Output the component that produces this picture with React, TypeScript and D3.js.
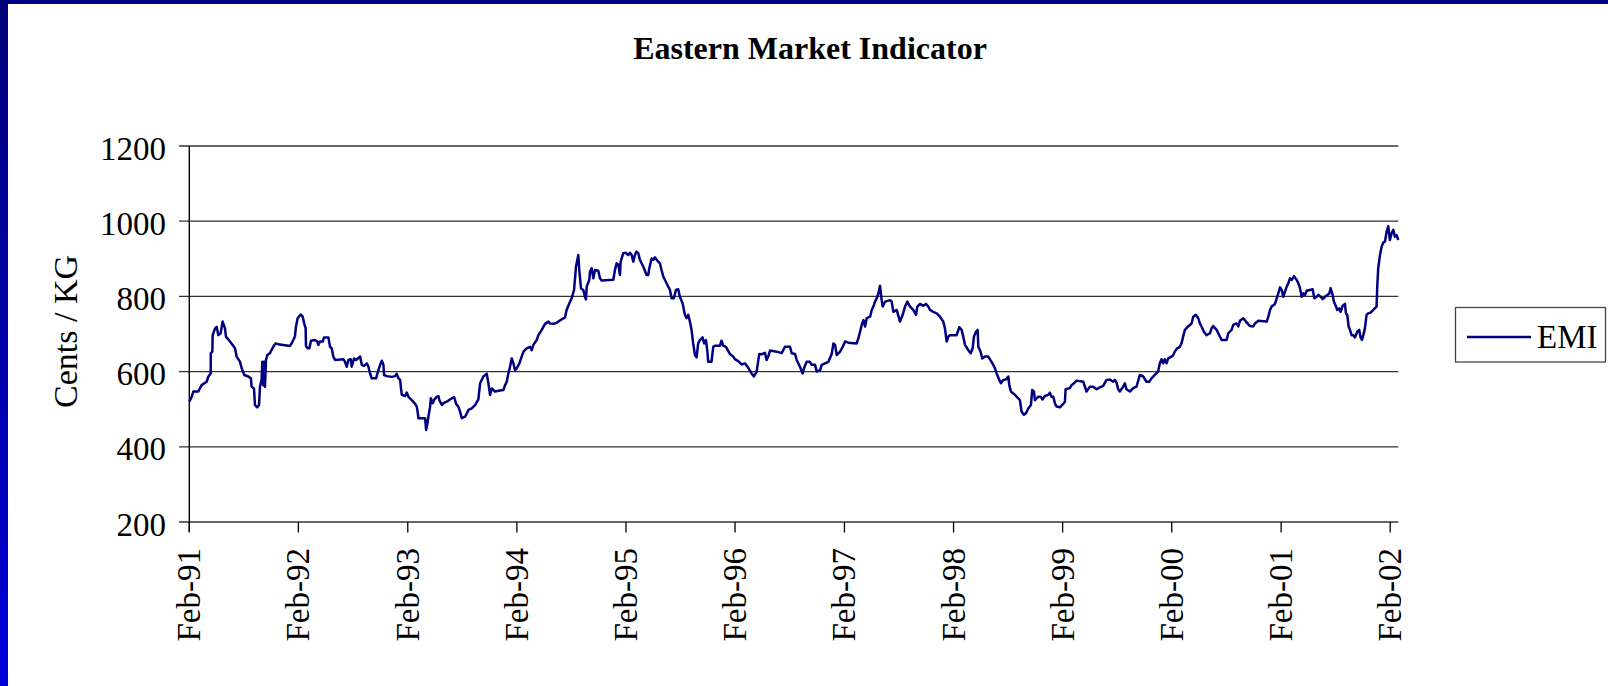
import React from "react";
import * as d3 from "d3";

// Eastern Market Indicator (cents / kg), time given as decimal year
const emi1991: [number, number][] = [
  [1991.085, 520], [1991.107, 533], [1991.122, 547], [1991.168, 547], [1991.198, 564], [1991.244, 573],
  [1991.26, 587], [1991.281, 595], [1991.282, 649], [1991.296, 653], [1991.299, 697], [1991.321, 715],
  [1991.336, 719], [1991.351, 697], [1991.372, 702], [1991.391, 733], [1991.412, 715], [1991.421, 693],
  [1991.458, 680], [1991.504, 662], [1991.519, 640], [1991.55, 626], [1991.565, 609], [1991.589, 591],
  [1991.626, 587], [1991.65, 582], [1991.656, 560], [1991.678, 555], [1991.687, 511], [1991.708, 505],
  [1991.724, 511], [1991.733, 560], [1991.748, 578], [1991.754, 626], [1991.763, 564], [1991.772, 626],
  [1991.779, 560], [1991.788, 631], [1991.8, 644], [1991.824, 649], [1991.855, 666], [1991.876, 675],
  [1991.901, 673],
];
const emi1992: [number, number][] = [
  [1992.007, 668], [1992.023, 675], [1992.038, 684], [1992.053, 693], [1992.062, 719], [1992.078, 742],
  [1992.105, 752], [1992.124, 746], [1992.139, 727], [1992.151, 715], [1992.154, 668], [1992.169, 662],
  [1992.185, 662], [1992.2, 682], [1992.236, 684], [1992.258, 680], [1992.267, 671], [1992.282, 680],
  [1992.307, 680], [1992.319, 691], [1992.359, 691], [1992.374, 666], [1992.389, 662], [1992.404, 640],
  [1992.42, 631], [1992.496, 633], [1992.511, 626], [1992.527, 613], [1992.542, 631], [1992.563, 633],
  [1992.572, 613], [1992.594, 635], [1992.612, 631], [1992.649, 640], [1992.664, 618], [1992.685, 615],
  [1992.71, 622], [1992.725, 613], [1992.74, 595], [1992.755, 582], [1992.795, 582], [1992.807, 595],
  [1992.832, 618], [1992.847, 629], [1992.862, 618], [1992.868, 591], [1992.893, 588], [1992.939, 586],
  [1992.969, 588], [1992.984, 594],
];
const emi1993: [number, number][] = [
  [1993.0, 582], [1993.015, 578], [1993.021, 560], [1993.03, 538], [1993.061, 535], [1993.076, 544],
  [1993.091, 533], [1993.122, 524], [1993.152, 514], [1993.168, 507], [1993.177, 489], [1993.183, 476],
  [1993.244, 476], [1993.253, 445], [1993.265, 462], [1993.274, 480], [1993.29, 507], [1993.296, 529],
  [1993.314, 516], [1993.329, 526], [1993.351, 533], [1993.366, 535], [1993.375, 524], [1993.397, 511],
  [1993.412, 516], [1993.442, 520], [1993.488, 529], [1993.51, 532], [1993.528, 514], [1993.549, 507],
  [1993.565, 493], [1993.58, 476], [1993.61, 480], [1993.626, 489], [1993.641, 498], [1993.671, 502],
  [1993.702, 511], [1993.732, 526], [1993.748, 569], [1993.778, 587], [1993.809, 594], [1993.824, 569],
  [1993.839, 538], [1993.855, 555], [1993.885, 547], [1993.916, 549], [1993.961, 551], [1993.977, 564],
  [1993.992, 573],
];
const emi1994: [number, number][] = [
  [1994.007, 595], [1994.022, 613], [1994.038, 635], [1994.053, 622], [1994.068, 604], [1994.084, 609],
  [1994.108, 622], [1994.129, 640], [1994.145, 653], [1994.175, 662], [1994.206, 666], [1994.221, 657],
  [1994.236, 671], [1994.267, 684], [1994.282, 697], [1994.313, 711], [1994.343, 727], [1994.374, 733],
  [1994.389, 728], [1994.419, 727], [1994.45, 730], [1994.496, 739], [1994.526, 744], [1994.541, 764],
  [1994.566, 782], [1994.587, 795], [1994.609, 817], [1994.627, 879], [1994.648, 910], [1994.657, 870],
  [1994.673, 821], [1994.694, 817], [1994.709, 799], [1994.718, 792], [1994.725, 826], [1994.749, 844],
  [1994.755, 866], [1994.77, 875], [1994.786, 848], [1994.801, 870], [1994.831, 868], [1994.847, 848],
  [1994.862, 842], [1994.969, 844], [1994.984, 870], [1994.999, 888],
];
const emi1995: [number, number][] = [
  [1995.015, 884], [1995.03, 857], [1995.036, 892], [1995.06, 915], [1995.085, 916], [1995.106, 910],
  [1995.121, 916], [1995.137, 910], [1995.152, 892], [1995.167, 910], [1995.182, 919], [1995.198, 915],
  [1995.213, 897], [1995.244, 879], [1995.274, 857], [1995.289, 857], [1995.299, 875], [1995.32, 901],
  [1995.335, 897], [1995.35, 904], [1995.366, 897], [1995.396, 888], [1995.411, 870], [1995.427, 853],
  [1995.457, 835], [1995.488, 817], [1995.503, 795], [1995.524, 795], [1995.543, 817], [1995.564, 819],
  [1995.579, 799], [1995.604, 782], [1995.625, 751], [1995.64, 742], [1995.656, 751], [1995.671, 733],
  [1995.686, 711], [1995.701, 675], [1995.717, 644], [1995.732, 638], [1995.747, 675], [1995.763, 684],
  [1995.787, 691], [1995.802, 675], [1995.818, 684], [1995.83, 657], [1995.839, 626], [1995.869, 626],
  [1995.885, 666], [1995.9, 669], [1995.946, 669], [1995.961, 682], [1995.976, 669],
];
const emi1996: [number, number][] = [
  [1996.001, 666], [1996.037, 647], [1996.068, 640], [1996.083, 633], [1996.114, 628], [1996.144, 619],
  [1996.175, 622], [1996.205, 610], [1996.236, 595], [1996.257, 587], [1996.282, 600], [1996.306, 647],
  [1996.327, 646], [1996.358, 650], [1996.373, 631], [1996.388, 640], [1996.404, 656], [1996.465, 653],
  [1996.511, 649], [1996.541, 666], [1996.587, 666], [1996.602, 649], [1996.633, 647], [1996.648, 631],
  [1996.678, 613], [1996.703, 595], [1996.715, 609], [1996.739, 626], [1996.77, 626], [1996.785, 618],
  [1996.816, 618], [1996.831, 600], [1996.862, 604], [1996.877, 618], [1996.938, 626], [1996.968, 647],
  [1996.984, 675], [1996.999, 671],
];
const emi1997: [number, number][] = [
  [1997.014, 644], [1997.045, 653], [1997.069, 666], [1997.091, 680], [1997.121, 677], [1997.197, 675],
  [1997.213, 689], [1997.228, 706], [1997.243, 724], [1997.259, 737], [1997.274, 720], [1997.289, 742],
  [1997.32, 746], [1997.335, 764], [1997.35, 773], [1997.365, 786], [1997.381, 795], [1997.396, 808],
  [1997.411, 828], [1997.426, 790], [1997.436, 773], [1997.457, 786], [1997.503, 790], [1997.518, 786],
  [1997.533, 759], [1997.564, 764], [1997.594, 733], [1997.619, 751], [1997.64, 773], [1997.661, 786],
  [1997.686, 773], [1997.716, 764], [1997.741, 751], [1997.753, 773], [1997.778, 780], [1997.808, 775],
  [1997.832, 780], [1997.854, 773], [1997.869, 764], [1997.9, 759], [1997.93, 755], [1997.961, 746],
  [1997.991, 733],
];
const emi1998: [number, number][] = [
  [1998.006, 715], [1998.022, 680], [1998.037, 693], [1998.052, 697], [1998.113, 697], [1998.138, 718],
  [1998.159, 711], [1998.174, 693], [1998.19, 671], [1998.22, 657], [1998.242, 649], [1998.26, 662],
  [1998.272, 693], [1998.29, 706], [1998.306, 711], [1998.312, 666], [1998.333, 653], [1998.348, 635],
  [1998.373, 640], [1998.403, 640], [1998.434, 626], [1998.449, 618], [1998.464, 609], [1998.48, 595],
  [1998.504, 578], [1998.519, 569], [1998.541, 578], [1998.565, 579], [1998.587, 587], [1998.596, 564],
  [1998.611, 547], [1998.648, 538], [1998.678, 529], [1998.693, 524], [1998.709, 493], [1998.73, 485],
  [1998.748, 489], [1998.77, 502], [1998.794, 511], [1998.806, 551], [1998.822, 547], [1998.831, 524],
  [1998.846, 529], [1998.861, 533], [1998.883, 533], [1998.901, 526], [1998.922, 535], [1998.953, 538],
  [1998.968, 544], [1998.983, 533], [1998.999, 533],
];
const emi1999: [number, number][] = [
  [1999.014, 516], [1999.029, 507], [1999.06, 505], [1999.09, 514], [1999.106, 520], [1999.112, 553],
  [1999.151, 556], [1999.167, 564], [1999.197, 571], [1999.212, 576], [1999.274, 573], [1999.289, 560],
  [1999.304, 547], [1999.335, 560], [1999.365, 560], [1999.396, 553], [1999.426, 558], [1999.457, 562],
  [1999.487, 578], [1999.518, 579], [1999.548, 573], [1999.564, 578], [1999.579, 571], [1999.594, 553],
  [1999.609, 547], [1999.64, 560], [1999.655, 569], [1999.67, 553], [1999.701, 547], [1999.731, 556],
  [1999.762, 560], [1999.793, 591], [1999.823, 587], [1999.854, 573], [1999.878, 573], [1999.899, 582],
  [1999.93, 591], [1999.96, 600], [1999.976, 622], [1999.991, 633],
];
const emi2000: [number, number][] = [
  [2000.006, 622], [2000.021, 633], [2000.037, 622], [2000.052, 635], [2000.083, 640], [2000.098, 644],
  [2000.113, 653], [2000.134, 662], [2000.159, 666], [2000.174, 675], [2000.189, 693], [2000.205, 711],
  [2000.235, 720], [2000.266, 728], [2000.281, 746], [2000.305, 751], [2000.327, 742], [2000.342, 728],
  [2000.357, 720], [2000.379, 706], [2000.403, 697], [2000.434, 702], [2000.449, 715], [2000.464, 721],
  [2000.495, 711], [2000.51, 702], [2000.541, 684], [2000.586, 684], [2000.602, 702], [2000.632, 711],
  [2000.647, 724], [2000.678, 728], [2000.693, 720], [2000.708, 735], [2000.739, 742], [2000.763, 733],
  [2000.8, 721], [2000.83, 720], [2000.846, 728], [2000.876, 735], [2000.953, 733], [2000.968, 746],
  [2000.983, 764], [2000.998, 773],
];
const emi2001: [number, number][] = [
  [2001.029, 780], [2001.044, 795], [2001.059, 808], [2001.075, 824], [2001.09, 817], [2001.105, 799],
  [2001.121, 813], [2001.136, 826], [2001.151, 835], [2001.166, 848], [2001.182, 844], [2001.203, 854],
  [2001.227, 844], [2001.243, 835], [2001.258, 822], [2001.273, 799], [2001.288, 808], [2001.304, 804],
  [2001.319, 815], [2001.374, 819], [2001.389, 795], [2001.411, 799], [2001.426, 804], [2001.447, 799],
  [2001.466, 793], [2001.487, 799], [2001.527, 808], [2001.539, 822], [2001.557, 804], [2001.569, 786],
  [2001.588, 773], [2001.6, 764], [2001.618, 768], [2001.63, 759], [2001.649, 775], [2001.67, 780],
  [2001.679, 755], [2001.691, 751], [2001.704, 720], [2001.716, 711], [2001.731, 697], [2001.746, 697],
  [2001.762, 691], [2001.783, 706], [2001.801, 711], [2001.813, 691], [2001.826, 684], [2001.838, 697],
  [2001.853, 715], [2001.868, 751], [2001.884, 755], [2001.905, 757], [2001.93, 764], [2001.96, 773],
  [2001.966, 826], [2001.975, 875], [2001.991, 910],
];
const emi2002: [number, number][] = [
  [2002.006, 932], [2002.021, 943], [2002.037, 946], [2002.052, 972], [2002.067, 987], [2002.082, 950],
  [2002.098, 968], [2002.113, 977], [2002.128, 959], [2002.143, 963], [2002.159, 950],
];

const yTicks = [200, 400, 600, 800, 1000, 1200];
const xTickYears = [1991, 1992, 1993, 1994, 1995, 1996, 1997, 1998, 1999, 2000, 2001, 2002];
const chartTitle = "Eastern Market Indicator";
const yAxisTitle = "Cents / KG";
const seriesName = "EMI";

const toDate = (t: number) => {
  const yr = Math.floor(t);
  const a = Date.UTC(yr, 0, 1);
  const b = Date.UTC(yr + 1, 0, 1);
  return new Date(a + (t - yr) * (b - a));
};

const series = [
  ...emi1991, ...emi1992, ...emi1993, ...emi1994, ...emi1995, ...emi1996,
  ...emi1997, ...emi1998, ...emi1999, ...emi2000, ...emi2001, ...emi2002,
].map(([t, v]) => ({ date: toDate(t), value: v }));

export default function App() {
  const W = 1608, H = 686;
  const left = 189.3, right = 1398.3, top = 146, bottom = 522;
  const x = d3.scaleUtc()
    .domain(d3.extent(series, (d) => d.date) as [Date, Date])
    .range([left, right]);
  const y = d3.scaleLinear().domain([200, 1200]).range([bottom, top]);
  const line = d3.line<{ date: Date; value: number }>()
    .x((d) => x(d.date))
    .y((d) => y(d.value));
  const fmt = d3.utcFormat("%b-%y");
  const font = "'Liberation Serif', 'Times New Roman', serif";
  const tickDates = xTickYears.map((yr) => new Date(Date.UTC(yr, 1, 1)));

  return (
    <div style={{ position: "absolute", left: 0, top: 0, width: W, height: H }}>
      <svg width={W} height={H} style={{ display: "block" }} fontFamily={font}>
        <defs>
          <linearGradient id="sideBar" x1="0" y1="0" x2="0" y2="1">
            <stop offset="0" stopColor="#000078" />
            <stop offset="1" stopColor="#0000DA" />
          </linearGradient>
        </defs>
        <rect x={0} y={0} width={W} height={H} fill="#ffffff" />
        <rect x={0} y={0} width={W} height={4} fill="#000080" />
        <rect x={0} y={0} width={8} height={H} fill="url(#sideBar)" />

        <text x={810} y={59} textAnchor="middle" fontSize={32} fontWeight="bold" fill="#000">
          {chartTitle}
        </text>

        {yTicks.map((t) => (
          <g key={"y" + t}>
            <line x1={179} x2={right} y1={y(t)} y2={y(t)} stroke="#333" strokeWidth={1.3} />
            <text x={166} y={y(t) + 13.5} textAnchor="end" fontSize={33} fill="#000">
              {t}
            </text>
          </g>
        ))}
        <line x1={left} x2={left} y1={top} y2={bottom + 10} stroke="#000" strokeWidth={1.4} />

        {tickDates.map((d) => (
          <g key={"x" + d.getTime()}>
            <line x1={x(d)} x2={x(d)} y1={bottom} y2={bottom + 10.5} stroke="#000" strokeWidth={1.3} />
            <text
              transform={`translate(${x(d) + 11},548) rotate(-90)`}
              textAnchor="end"
              fontSize={33}
              fill="#000"
            >
              {fmt(d)}
            </text>
          </g>
        ))}

        <text transform="translate(76.5,331.5) rotate(-90)" textAnchor="middle" fontSize={34} fill="#000">
          {yAxisTitle}
        </text>

        <path d={line(series) ?? ""} fill="none" stroke="#000080" strokeWidth={2.5} strokeLinejoin="round" />

        <rect x={1455.5} y={307.5} width={150} height={54.5} fill="#fff" stroke="#444" strokeWidth={1.3} />
        <line x1={1467} x2={1531} y1={337} y2={337} stroke="#000080" strokeWidth={2.5} />
        <text x={1537} y={348} fontSize={33} fill="#000">
          {seriesName}
        </text>
      </svg>
    </div>
  );
}
